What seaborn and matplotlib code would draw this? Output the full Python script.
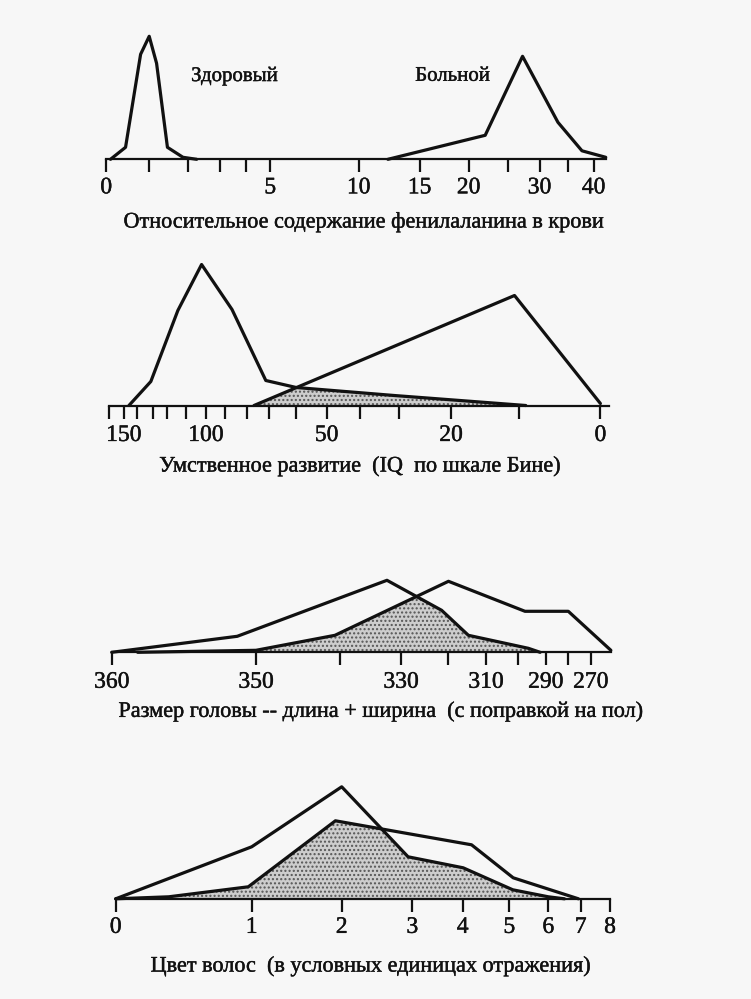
import numpy as np
import matplotlib
matplotlib.use("Agg")
import matplotlib.pyplot as plt
import matplotlib.patheffects as pe
import seaborn as sns
from matplotlib.ticker import FixedLocator, FixedFormatter, NullLocator

# ---------------- data ----------------
# Panel 1: phenylalanine in blood (relative content)
phe_ticks = [0, 1, 2, 3, 4, 5, 10, 15, 20, 25, 30, 35, 40]
phe_tick_labels = ["0", "", "", "", "", "5", "10", "15", "20", "", "30", "", "40"]
phe_healthy_x = [0.1, 0.45, 0.8, 1.0, 1.19, 1.47, 1.87, 2.27]
phe_healthy_y = [0, 12, 105, 123, 96, 12, 2, 0]
phe_patient_x = [12.4, 22.1, 27.3, 33.2, 37.7, 42.4]
phe_patient_y = [0, 24, 103, 37, 8.5, 2]

# Panel 2: IQ (Binet scale)
iq_ticks = [160, 150, 140, 130, 120, 110, 100, 90, 80, 70, 60, 50, 40, 30, 20, 10, 0]
iq_tick_labels = ["", "150", "", "", "", "", "100", "", "", "", "", "50", "", "", "20", "", "0"]
iq_healthy_x = [146.2, 131.1, 114.4, 102.2, 86.9, 71.5, 60, 31.3, 9.2]
iq_healthy_y = [0, 24, 95, 141, 96, 25, 18, 10, 0]
iq_patient_x = [76.9, 10.7, 0]
iq_patient_y = [0, 110, 2]

# Panel 3: head size (length + width, sex corrected)
head_ticks = [360, 350, 340, 330, 320, 310, 300, 290, 280, 270]
head_tick_labels = ["360", "350", "", "330", "", "310", "", "290", "", "270"]
head_healthy_x = [360, 351.3, 332.3, 321.3, 314.6, 296.2, 292]
head_healthy_y = [0, 16, 72, 42, 17, 4, 0]
head_patient_x = [358.2, 350, 340.6, 319.8, 297.4, 280, 261]
head_patient_y = [0, 2, 17, 71, 41, 41, 2]

# Panel 4: hair colour (reflectance units)
hair_ticks = [0, 1, 2, 3, 4, 5, 6, 7, 8]
hair_tick_labels = ["0", "1", "2", "3", "4", "5", "6", "7", "8"]
hair_healthy_x = [0, 1, 2, 2.94, 4.01, 5.09, 6.0, 6.5]
hair_healthy_y = [0, 52, 112, 42, 31, 9, 2, 0]
hair_patient_x = [0, 0.39, 0.975, 1.93, 4.19, 5.1, 6.93]
hair_patient_y = [0, 2, 12, 78, 54, 21, 0]

# ---------------- layout (pixel positions of the nonlinear scales) ----------------
phe_pos = [106.2, 149.2, 188.0, 220.1, 246.2, 270.2, 358.7, 419.6, 468.6, 508.1, 539.5, 568.3, 593.6]
iq_pos = [109.3, 123.8, 137.3, 152.5, 167.1, 186.3, 205.9, 225.2, 247.2, 269.1, 296.2, 326.6,
          360.4, 399.3, 451.0, 519.3, 600.4]
head_pos = [111.7, 256, 340, 401, 447.7, 486, 517.7, 545.7, 568.3, 590.7]
hair_pos = [115.7, 251.7, 341.7, 412.3, 462.7, 509.3, 548.3, 580.7, 610]

W, H = 751, 999
BG = "#f7f7f7"
INK = "#111111"

sns.set_theme(style="white")
plt.rcParams["font.family"] = ["Liberation Serif", "DejaVu Serif"]
plt.rcParams["hatch.linewidth"] = 1.0

fig = plt.figure(figsize=(W / 100, H / 100), dpi=100)
fig.patch.set_facecolor(BG)


def ext_interp(x, xp, fp):
    x = np.asarray(x, dtype=float)
    y = np.interp(x, xp, fp)
    lo_s = (fp[1] - fp[0]) / (xp[1] - xp[0])
    hi_s = (fp[-1] - fp[-2]) / (xp[-1] - xp[-2])
    y = np.where(x < xp[0], fp[0] + (x - xp[0]) * lo_s, y)
    y = np.where(x > xp[-1], fp[-1] + (x - xp[-1]) * hi_s, y)
    return y


def make_axes(ticks, pos, labels, lim, baseline, height=150, pad=4):
    tv = np.asarray(ticks, float)
    tp = np.asarray(pos, float)
    o = np.argsort(tv)
    tv_s, tp_s = tv[o], tp[o]
    sign = 1.0 if tp_s[-1] > tp_s[0] else -1.0
    o2 = np.argsort(tp)
    tp2, tv2 = tp[o2], tv[o2]

    def fwd(v):
        return sign * ext_interp(v, tv_s, tp_s)

    def inv(t):
        return ext_interp(sign * np.asarray(t, float), tp2, tv2)

    left = sign * float(fwd(lim[0]))
    right = sign * float(fwd(lim[1]))
    ax = fig.add_axes([left / W, 1 - baseline / H, (right - left) / W, height / H])
    ax.set_xscale("function", functions=(fwd, inv))
    ax.set_xlim(*lim)
    ax.set_ylim(0, height)
    ax.patch.set_alpha(0)
    for s in ["top", "left", "right"]:
        ax.spines[s].set_visible(False)
    ax.spines["bottom"].set_linewidth(1.6)
    ax.spines["bottom"].set_color(INK)
    ax.xaxis.set_major_locator(FixedLocator(ticks))
    ax.xaxis.set_major_formatter(FixedFormatter(labels))
    ax.xaxis.set_minor_locator(NullLocator())
    ax.set_yticks([])
    ax.tick_params(axis="x", direction="out", length=9, width=1.6, color=INK,
                   labelsize=17, labelcolor=INK, pad=pad, bottom=True)
    for t in ax.get_xticklabels():
        t.set_path_effects([pe.withStroke(linewidth=0.3, foreground=INK)])
    ax.set_ylabel("")
    return ax, fwd, inv, left, right


def curve(ax, x, y):
    sns.lineplot(x=x, y=y, ax=ax, color=INK, linewidth=2.3, sort=False,
                 estimator=None, legend=False, clip_on=False)


def overlap(ax, fwd, inv, xa, ya, xb, yb):
    pa = fwd(np.asarray(xa, float)); pb = fwd(np.asarray(xb, float))
    ya = np.asarray(ya, float); yb = np.asarray(yb, float)
    oa, ob = np.argsort(pa), np.argsort(pb)
    lo = max(pa.min(), pb.min()); hi = min(pa.max(), pb.max())
    g = np.linspace(lo, hi, 500)
    m = np.minimum(np.interp(g, pa[oa], ya[oa]), np.interp(g, pb[ob], yb[ob]))
    ax.fill_between(inv(g), 0, m, facecolor="#cdcdcd", hatch="....",
                    edgecolor="#555555", linewidth=0, zorder=1)


def xlabel(ax, text, cx, cy, left, right, baseline, height=150):
    ax.set_xlabel(text, fontsize=16, color=INK)
    ax.xaxis.set_label_coords((cx - left) / (right - left), -(cy - baseline) / height)
    ax.xaxis.label.set_va("center")
    ax.xaxis.label.set_path_effects([pe.withStroke(linewidth=0.3, foreground=INK)])


# Panel 1
b1 = 159.3
ax1, f1, i1, l1, r1 = make_axes(phe_ticks, phe_pos, phe_tick_labels, (0, 42.4), b1, pad=4)
curve(ax1, phe_healthy_x, phe_healthy_y)
curve(ax1, phe_patient_x, phe_patient_y)
for tx, s in [(3.55, "Здоровый"), (18.36, "Больной")]:
    ax1.text(tx, 83, s, ha="center", va="center", fontsize=15, color=INK,
             path_effects=[pe.withStroke(linewidth=0.3, foreground=INK)])
xlabel(ax1, "Относительное содержание фенилаланина в крови", 363.8, 222.8, l1, r1, b1)

# Panel 2
b2 = 405.5
ax2, f2, i2, l2, r2 = make_axes(iq_ticks, iq_pos, iq_tick_labels, (160, -1), b2, pad=5)
overlap(ax2, f2, i2, iq_healthy_x, iq_healthy_y, iq_patient_x, iq_patient_y)
curve(ax2, iq_healthy_x, iq_healthy_y)
curve(ax2, iq_patient_x, iq_patient_y)
xlabel(ax2, "Умственное развитие  (IQ  по шкале Бине)", 360, 466.7, l2, r2, b2)

# Panel 3
b3 = 652.3
ax3, f3, i3, l3, r3 = make_axes(head_ticks, head_pos, head_tick_labels, (360, 261), b3, pad=5)
overlap(ax3, f3, i3, head_healthy_x, head_healthy_y, head_patient_x, head_patient_y)
curve(ax3, head_healthy_x, head_healthy_y)
curve(ax3, head_patient_x, head_patient_y)
xlabel(ax3, "Размер головы -- длина + ширина  (с поправкой на пол)", 381, 712, l3, r3, b3)

# Panel 4
b4 = 898.8
ax4, f4, i4, l4, r4 = make_axes(hair_ticks, hair_pos, hair_tick_labels, (0, 8), b4, pad=4)
overlap(ax4, f4, i4, hair_healthy_x, hair_healthy_y, hair_patient_x, hair_patient_y)
curve(ax4, hair_healthy_x, hair_healthy_y)
curve(ax4, hair_patient_x, hair_patient_y)
xlabel(ax4, "Цвет волос  (в условных единицах отражения)", 371, 966.7, l4, r4, b4)

fig.savefig("out.png", dpi=100, facecolor=BG)
